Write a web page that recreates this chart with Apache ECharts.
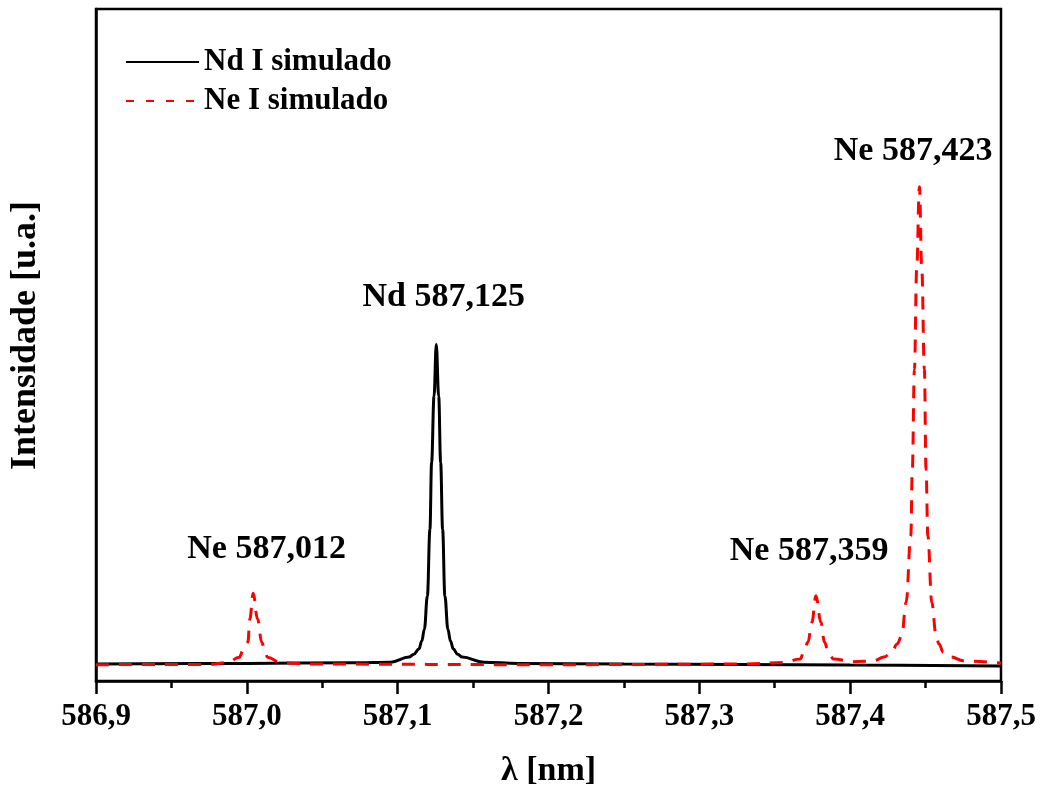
<!DOCTYPE html>
<html>
<head>
<meta charset="utf-8">
<script src="https://cdn.jsdelivr.net/npm/echarts@6/dist/echarts.min.js"></script>
<style>
  html, body { margin: 0; padding: 0; background: #fff; }
  #chart { width: 1045px; height: 793px; }
</style>
</head>
<body>
<div id="chart"></div>
<script>
// values (intensity scaled so the Nd peak = 1)
const ndLambda = [586.90, 587.00, 587.07, 587.0954, 587.1075, 587.1108, 587.1141, 587.1160, 587.1177, 587.1197, 587.1214,
  587.1225, 587.1241, 587.1256, 587.1272, 587.1285, 587.1298, 587.1313, 587.1333, 587.1350, 587.1369, 587.1397,
  587.1428, 587.157, 587.18, 587.25, 587.40, 587.50];
const ndInt = [0.000, 0.002, 0.004, 0.006, 0.022, 0.031, 0.047, 0.072, 0.109, 0.213, 0.422,
  0.631, 0.838, 1.000, 0.838, 0.631, 0.422, 0.213, 0.109, 0.072, 0.047, 0.031,
  0.022, 0.006, 0.002, 0.000, -0.003, -0.006];

const neLambda = [586.90, 586.975, 586.9872, 586.9949, 586.9974, 587.0007, 587.0020, 587.0042, 587.0071, 587.0099,
  587.0119, 587.0137, 587.0225, 587.04, 587.20, 587.33, 587.3558, 587.3669, 587.3695, 587.3720, 587.3746, 587.3773,
  587.3806, 587.3830, 587.3854, 587.3889, 587.4022, 587.4154, 587.4225, 587.4276, 587.4311, 587.4342, 587.4371,
  587.4402, 587.4412, 587.4426, 587.4441, 587.4459, 587.4475, 587.4492, 587.4503, 587.4515, 587.4541, 587.4570,
  587.4589, 587.4618, 587.4669, 587.4750, 587.5000];
const neInt = [-0.002, -0.001, 0.005, 0.021, 0.041, 0.068, 0.141, 0.222, 0.141, 0.068,
  0.041, 0.021, 0.005, 0.000, -0.002, 0.000, 0.005, 0.016, 0.041, 0.068, 0.130, 0.214,
  0.130, 0.068, 0.041, 0.016, 0.007, 0.010, 0.022, 0.037, 0.0625, 0.088, 0.193,
  0.401, 0.609, 0.922, 1.234, 1.494, 1.234, 0.922, 0.609, 0.401, 0.193, 0.088,
  0.0625, 0.037, 0.022, 0.010, 0.003];

const xTickLabels = ['586,9', '587,0', '587,1', '587,2', '587,3', '587,4', '587,5'];

const peakNames = ['Nd 587,125', 'Ne 587,423', 'Ne 587,012', 'Ne 587,359'];
const peakLabelX = [587.1305, 587.4417, 587.0131, 587.3728];
const peakLabelY = [1.147, 1.605, 0.359, 0.353];

const font = "'Liberation Serif', 'Times New Roman', serif";

const chart = echarts.init(document.getElementById('chart'));

const toPairs = (xs, ys) => xs.map((x, i) => [x, ys[i]]);

chart.setOption({
  backgroundColor: '#fff',
  animation: false,
  grid: {
    left: 95, right: 44, top: 9, bottom: 111,
    show: true, borderColor: '#000', borderWidth: 2.5
  },
  legend: {
    orient: 'vertical',
    left: 125,
    top: 45,
    padding: 0,
    itemWidth: 73,
    itemHeight: 14,
    itemGap: 5,
    itemStyle: { opacity: 0 },
    textStyle: { fontFamily: font, fontWeight: 'bold', fontSize: 31, lineHeight: 34, color: '#000' },
    data: [
      { name: 'Nd I simulado' },
      { name: 'Ne I simulado', lineStyle: { type: [8, 12] } }
    ]
  },
  xAxis: {
    type: 'value',
    min: 586.9,
    max: 587.5,
    interval: 0.1,
    name: 'λ [nm]',
    nameLocation: 'middle',
    nameGap: 73,
    nameTextStyle: { fontFamily: font, fontWeight: 'bold', fontSize: 34, color: '#000' },
    axisLine: { onZero: false, lineStyle: { color: '#000', width: 2.5 } },
    axisTick: { show: true, inside: false, length: 13, lineStyle: { color: '#000', width: 2.5 } },
    minorTick: { show: true, splitNumber: 2, length: 7, lineStyle: { color: '#000', width: 2.5 } },
    splitLine: { show: false },
    axisLabel: {
      margin: 20,
      fontFamily: font, fontWeight: 'bold', fontSize: 31, color: '#000',
      showMinLabel: true, showMaxLabel: true,
      formatter: (v, i) => xTickLabels[i]
    }
  },
  yAxis: {
    type: 'value',
    min: -0.053,
    max: 2.05,
    name: 'Intensidade [u.a.]',
    nameLocation: 'middle',
    nameGap: 52,
    nameTextStyle: { fontFamily: font, fontWeight: 'bold', fontSize: 36, color: '#000', padding: [0, 0, 0, 19] },
    axisLine: { show: true, onZero: false, lineStyle: { color: '#000', width: 2.5 } },
    axisTick: { show: false },
    axisLabel: { show: false },
    splitLine: { show: false }
  },
  series: [
    {
      name: 'Nd I simulado',
      type: 'line',
      data: toPairs(ndLambda, ndInt),
      symbol: 'none',
      smooth: 0.4,
      smoothMonotone: 'x',
      lineStyle: { color: '#000', width: 3 },
      itemStyle: { color: '#000' },
      markPoint: {
        symbol: 'circle',
        symbolSize: 0,
        label: {
          show: true, position: 'inside',
          fontFamily: font, fontWeight: 'bold', fontSize: 34, color: '#000',
          formatter: p => p.name
        },
        data: peakNames.map((n, i) => ({ name: n, coord: [peakLabelX[i], peakLabelY[i]] }))
      }
    },
    {
      name: 'Ne I simulado',
      type: 'line',
      data: toPairs(neLambda, neInt),
      symbol: 'none',
      smooth: 0.4,
      smoothMonotone: 'x',
      lineStyle: { color: '#ff0000', width: 3, type: [13, 10] },
      itemStyle: { color: '#ff0000' }
    }
  ]
});
</script>
</body>
</html>
